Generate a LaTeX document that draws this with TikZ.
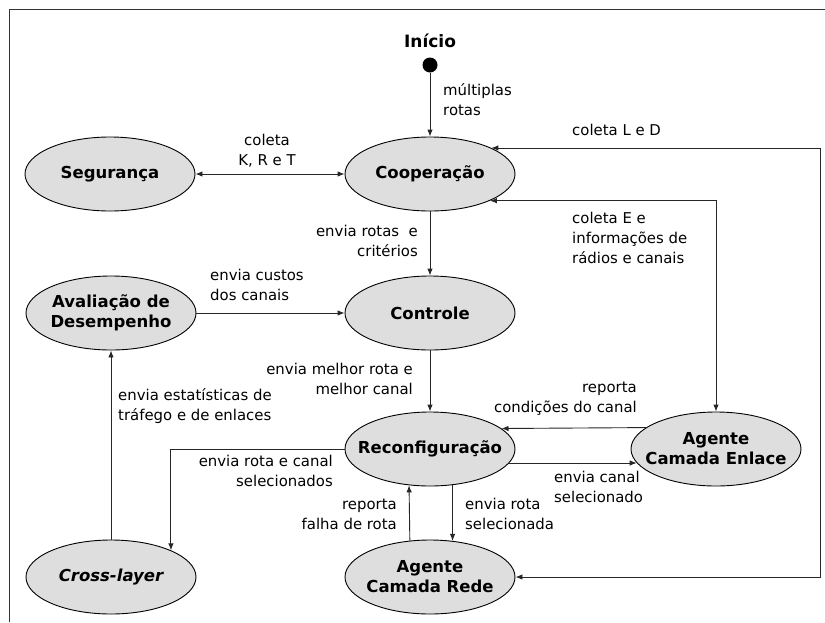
\documentclass[tikz,border=0pt]{standalone}
\usepackage{fontspec}
\setmainfont{DejaVu Sans}
\usetikzlibrary{shapes.geometric,arrows.meta}
\definecolor{ellfill}{RGB}{222,222,222}
\tikzset{
  state/.style={ellipse, draw=black, line width=0.9pt, fill=ellfill, minimum width=170pt, minimum height=74pt, inner xsep=-16pt, inner ysep=0pt, align=center, font=\fontsize{16.5}{20}\selectfont\bfseries},
  lbl/.style={inner sep=0pt, font=\fontsize{14.9}{20}\selectfont},
  conn/.style={line width=0.9pt, draw=black!85, -{Latex[length=7pt,width=5.5pt]}},
  conn2/.style={line width=0.9pt, draw=black!85, {Latex[length=7pt,width=5.5pt]}-{Latex[length=7pt,width=5.5pt]}}
}
\begin{document}
\begin{tikzpicture}[x=1pt,y=-1pt]
\useasboundingbox (0,0) rectangle (825,622);
\draw[line width=0.9pt, black!80] (9,622) -- (9,9) -- (825,9);

\node[inner sep=0pt, font=\fontsize{17}{20}\selectfont\bfseries] (ini) at (430,41) {Início};
\node[circle, fill=black, minimum size=15pt, inner sep=0pt] (start) at (430,65) {};

\node[state] (coop) at (430,174) {Cooperação};
\node[state] (seg) at (110,174) {Segurança};
\node[state] (ctrl) at (430,313) {Controle};
\node[state] (aval) at (111,313) {Avaliação de\\Desempenho};
\node[state] (reconf) at (430,449) {Reconfiguração};
\node[state] (enl) at (716,449) {Agente\\Camada Enlace};
\node[state] (rede) at (430,577) {Agente\\Camada Rede};
\node[state, font=\fontsize{16.5}{20}\selectfont\bfseries\itshape] (cross) at (111,577) {Cross-layer};

\coordinate (rt) at (820,577);

\draw[conn] (start) -- (coop);
\draw[conn2] (seg) -- (coop);
\draw[conn2] (coop.23) -| (rt) -- (rede.east);
\draw[conn2] (coop.-24) -| (enl.north);
\draw[conn] (coop) -- (ctrl);
\draw[conn] (aval) -- (ctrl);
\draw[conn] (ctrl) -- (reconf);
\draw[conn] (cross) -- (aval);
\draw[conn] (reconf.west) -| (cross.24);
\draw[conn] (enl.163.3) -- (reconf.16.7);
\draw[conn] (reconf.-10.1) -- (enl.190.1);
\draw[conn] (rede.119.1) -- (reconf.240.9);
\draw[conn] (reconf.-58.4) -- (rede.58.4);

\node[lbl, anchor=west, align=left] (l1) at (443,100) {múltiplas\\rotas};
\node[lbl, align=center] (l2) at (267,151) {coleta\\K, R e T};
\node[lbl, anchor=west] (l3) at (572,130) {coleta L e D};
\node[lbl, anchor=west, align=left] (l4) at (572,238) {coleta E e\\informações de\\rádios e canais};
\node[lbl, anchor=east, align=right] (l5) at (418,241) {envia rotas\ \ e\\critérios};
\node[lbl, anchor=west, align=left] (l6) at (210,285) {envia custos\\dos canais};
\node[lbl, anchor=east, align=right] (l7) at (413,379) {envia melhor rota e\\melhor canal};
\node[lbl, anchor=west, align=left] (l8) at (118,406) {envia estatísticas de\\tráfego e de enlaces};
\node[lbl, anchor=east, align=right] (l9) at (333,471) {envia rota e canal\\selecionados};
\node[lbl, anchor=east, align=right] (l10) at (637,399) {reporta\\condições do canal};
\node[lbl, anchor=west, align=left] (l11) at (554,487) {envia canal\\selecionado};
\node[lbl, anchor=east, align=right] (l12) at (397,514) {reporta\\falha de rota};
\node[lbl, anchor=west, align=left] (l13) at (465,514) {envia rota\\selecionada};
\end{tikzpicture}
\end{document}
